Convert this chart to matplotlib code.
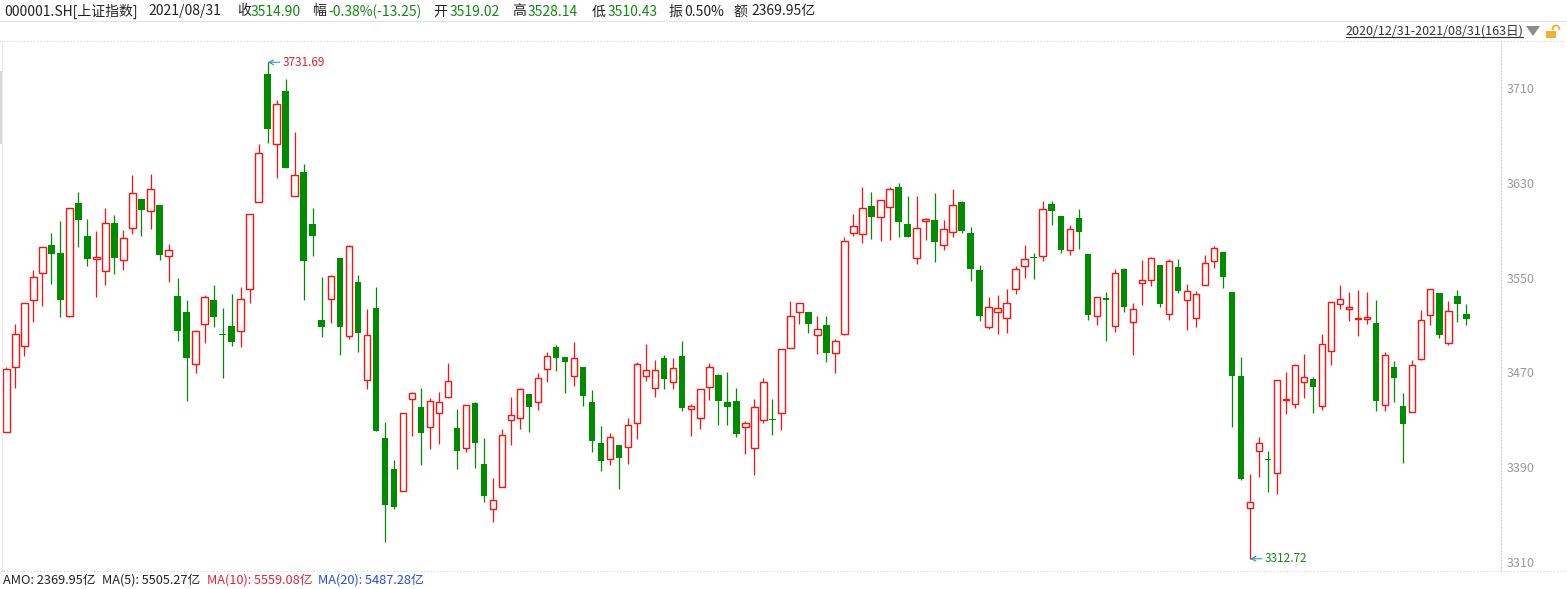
import numpy as np
import matplotlib
matplotlib.use("Agg")
import matplotlib.pyplot as plt
from matplotlib.lines import Line2D
from matplotlib.patches import Polygon, Rectangle, Arc

plt.rcParams['font.family'] = ['Noto Sans CJK SC', 'DejaVu Sans']

# daily OHLC of 000001.SH, 2020/12/31 - 2021/08/31 (163 trading days)
opens = [
    3419.7, 3474.3, 3492.0, 3530.8, 3553.6, 3577.5, 3570.8, 3517.9, 3612.7, 3585.1,
    3566.0, 3555.3, 3596.1, 3564.6, 3591.6, 3616.4, 3606.0, 3611.3, 3568.0, 3534.5,
    3521.0, 3476.8, 3510.6, 3531.1, 3502.4, 3509.2, 3504.7, 3540.1, 3613.5, 3721.8,
    3662.5, 3707.5, 3618.6, 3639.1, 3595.3, 3514.2, 3531.7, 3566.6, 3500.5, 3546.3,
    3463.3, 3524.4, 3414.7, 3388.5, 3369.7, 3447.3, 3440.5, 3424.2, 3435.5, 3449.5,
    3423.1, 3405.9, 3443.9, 3392.4, 3354.5, 3373.0, 3429.6, 3431.8, 3451.8, 3444.8,
    3472.6, 3491.2, 3482.7, 3467.3, 3474.6, 3445.0, 3410.2, 3396.7, 3408.5, 3406.8,
    3427.0, 3466.7, 3456.6, 3482.2, 3461.6, 3483.9, 3439.4, 3431.8, 3458.0, 3467.8,
    3445.0, 3445.9, 3423.7, 3405.9, 3429.6, 3431.0, 3435.5, 3490.3, 3520.7, 3520.7,
    3501.3, 3510.0, 3486.1, 3502.7, 3587.4, 3586.5, 3610.4, 3600.9, 3609.3, 3626.5,
    3595.2, 3566.3, 3597.5, 3598.3, 3577.2, 3588.2, 3613.5, 3587.4, 3556.1, 3508.0,
    3520.7, 3515.6, 3540.1, 3559.5, 3567.6, 3567.9, 3612.1, 3602.0, 3573.0, 3600.3,
    3569.9, 3517.3, 3532.5, 3508.8, 3557.2, 3512.2, 3545.1, 3547.7, 3560.6, 3519.0,
    3558.9, 3530.8, 3515.6, 3543.4, 3563.7, 3571.3, 3537.8, 3466.9, 3355.3, 3403.4,
    3396.9, 3384.8, 3446.7, 3443.1, 3461.6, 3464.4, 3441.4, 3488.3, 3527.4, 3523.8,
    3515.3, 3514.8, 3511.7, 3442.2, 3474.6, 3441.6, 3436.3, 3481.6, 3518.2, 3537.0,
    3494.5, 3534.2, 3519.02,
]
highs = [
    3474.9, 3510.9, 3528.3, 3556.4, 3575.5, 3587.9, 3597.8, 3608.4, 3622.2, 3599.4,
    3589.4, 3608.7, 3602.8, 3590.2, 3636.6, 3616.4, 3637.5, 3611.3, 3578.4, 3549.7,
    3531.1, 3505.8, 3535.3, 3543.8, 3524.7, 3536.5, 3541.8, 3603.4, 3662.5, 3731.69,
    3699.9, 3717.6, 3672.9, 3645.9, 3608.8, 3550.5, 3552.2, 3566.6, 3577.5, 3552.2,
    3523.5, 3542.1, 3428.2, 3396.1, 3435.5, 3453.5, 3456.9, 3448.1, 3453.5, 3478.0,
    3439.1, 3442.2, 3445.3, 3414.9, 3380.9, 3422.3, 3449.3, 3456.9, 3451.8, 3469.5,
    3487.0, 3493.1, 3482.7, 3495.7, 3474.6, 3455.2, 3424.8, 3418.9, 3408.5, 3431.5,
    3478.8, 3494.0, 3480.5, 3484.7, 3482.2, 3496.5, 3443.1, 3455.7, 3478.0, 3468.9,
    3470.4, 3456.9, 3429.0, 3447.6, 3465.3, 3447.6, 3489.5, 3530.2, 3528.3, 3520.7,
    3517.6, 3517.6, 3497.9, 3584.3, 3603.7, 3626.5, 3622.2, 3615.2, 3626.2, 3629.5,
    3618.9, 3618.9, 3600.3, 3621.4, 3598.3, 3624.8, 3614.6, 3592.4, 3560.3, 3533.6,
    3535.0, 3540.4, 3559.5, 3577.2, 3570.7, 3614.6, 3614.6, 3602.0, 3594.4, 3607.9,
    3569.9, 3533.3, 3537.8, 3557.0, 3558.1, 3528.3, 3564.8, 3567.1, 3560.6, 3565.4,
    3565.4, 3544.6, 3538.4, 3568.8, 3576.6, 3571.3, 3537.8, 3483.0, 3384.2, 3415.5,
    3403.6, 3463.3, 3470.3, 3477.1, 3485.5, 3466.1, 3502.1, 3529.1, 3543.8, 3537.9,
    3539.5, 3537.9, 3531.1, 3486.9, 3479.6, 3452.6, 3480.5, 3522.7, 3540.1, 3537.0,
    3530.3, 3539.5, 3528.14,
]
lows = [
    3419.7, 3457.1, 3484.1, 3512.8, 3526.3, 3544.6, 3517.0, 3517.0, 3576.1, 3560.1,
    3533.9, 3544.0, 3553.3, 3556.7, 3586.5, 3585.4, 3591.3, 3565.2, 3546.6, 3496.8,
    3446.2, 3469.8, 3495.1, 3508.6, 3465.6, 3492.6, 3491.7, 3528.9, 3613.5, 3663.9,
    3634.4, 3642.8, 3618.6, 3531.1, 3568.5, 3500.2, 3512.0, 3485.0, 3498.5, 3487.5,
    3456.3, 3420.9, 3327.2, 3354.5, 3369.7, 3416.6, 3391.9, 3405.7, 3409.9, 3448.7,
    3388.5, 3403.1, 3389.6, 3360.9, 3344.1, 3373.0, 3409.0, 3422.5, 3420.0, 3438.6,
    3462.2, 3471.2, 3452.9, 3458.8, 3441.9, 3403.1, 3387.1, 3392.2, 3371.9, 3392.7,
    3414.1, 3463.0, 3449.5, 3456.0, 3456.0, 3437.7, 3416.3, 3422.5, 3447.0, 3425.6,
    3425.6, 3415.8, 3401.4, 3383.7, 3427.6, 3417.2, 3421.4, 3490.3, 3510.6, 3503.5,
    3485.8, 3479.1, 3469.8, 3501.8, 3585.4, 3579.5, 3582.9, 3581.2, 3582.0, 3584.5,
    3584.5, 3561.8, 3582.0, 3563.4, 3573.0, 3584.5, 3587.4, 3547.4, 3513.7, 3506.9,
    3502.7, 3503.5, 3536.4, 3549.9, 3549.1, 3564.3, 3594.6, 3571.0, 3569.3, 3574.4,
    3514.5, 3510.3, 3496.8, 3504.3, 3521.2, 3484.9, 3526.9, 3543.2, 3525.4, 3514.5,
    3537.3, 3506.0, 3508.6, 3543.4, 3558.4, 3541.2, 3424.2, 3379.5, 3312.72, 3382.0,
    3369.3, 3367.1, 3435.2, 3440.2, 3448.7, 3436.0, 3438.6, 3476.5, 3523.8, 3513.4,
    3500.7, 3511.1, 3437.7, 3437.1, 3445.3, 3393.8, 3436.3, 3480.8, 3510.3, 3499.3,
    3493.4, 3512.8, 3510.43,
]
closes = [
    3473.1, 3502.4, 3528.3, 3550.2, 3575.5, 3570.2, 3531.4, 3608.4, 3598.9, 3566.0,
    3566.5, 3595.8, 3566.8, 3583.2, 3621.1, 3607.4, 3624.5, 3569.4, 3573.0, 3505.2,
    3482.5, 3504.7, 3533.4, 3517.1, 3501.5, 3496.0, 3531.7, 3603.4, 3654.9, 3675.7,
    3696.2, 3642.8, 3636.3, 3564.3, 3585.4, 3508.6, 3551.1, 3508.6, 3576.4, 3503.6,
    3501.3, 3420.9, 3358.4, 3356.7, 3435.5, 3452.3, 3419.2, 3445.6, 3444.8, 3462.5,
    3404.0, 3442.2, 3410.7, 3366.0, 3362.1, 3416.9, 3433.8, 3455.7, 3441.1, 3465.0,
    3483.6, 3482.5, 3479.1, 3481.9, 3450.4, 3412.4, 3395.5, 3415.2, 3398.1, 3425.3,
    3476.8, 3471.8, 3471.8, 3464.7, 3473.5, 3440.0, 3441.4, 3455.7, 3474.3, 3446.2,
    3441.1, 3418.3, 3427.0, 3440.5, 3461.6, 3429.8, 3489.5, 3517.3, 3528.3, 3511.1,
    3506.3, 3486.6, 3496.2, 3580.9, 3593.3, 3608.5, 3601.4, 3615.2, 3624.5, 3597.2,
    3584.5, 3591.6, 3599.2, 3580.3, 3590.7, 3611.0, 3589.6, 3557.0, 3517.9, 3524.9,
    3524.1, 3528.3, 3557.0, 3565.4, 3566.8, 3607.6, 3606.5, 3573.3, 3590.7, 3588.7,
    3518.7, 3533.3, 3530.8, 3553.6, 3525.4, 3523.2, 3547.7, 3566.2, 3528.0, 3563.7,
    3538.9, 3538.4, 3535.9, 3562.0, 3574.7, 3550.8, 3467.2, 3380.3, 3360.3, 3410.1,
    3396.0, 3463.3, 3447.2, 3476.0, 3465.8, 3458.0, 3493.7, 3529.1, 3531.7, 3524.2,
    3515.7, 3516.5, 3446.1, 3484.4, 3465.6, 3426.7, 3476.0, 3513.9, 3540.1, 3501.8,
    3521.5, 3528.0, 3514.90,
]
yticks = [3310, 3390, 3470, 3550, 3630, 3710]

W, H = 1567, 589
RED = '#ff1010'
GREEN = '#008c00'

o = np.array(opens)
h = np.array(highs)
l = np.array(lows)
c = np.array(closes)
x = np.arange(len(o))
up = c >= o

fig = plt.figure(figsize=(W / 100, H / 100), dpi=100)
ax = fig.add_axes([0, (H - 571) / H, 1501 / W, 530 / H])

body_lo = np.minimum(o, c)
body_hi = np.maximum(o, c)
body_h = np.maximum(body_hi - body_lo, 1.0)
bw = 0.72

# wicks: green through the body, red only outside the hollow body
ax.vlines(x[~up], l[~up], h[~up], color=GREEN, lw=0.9, zorder=2)
ax.vlines(x[up], body_hi[up], h[up], color=RED, lw=0.9, zorder=2)
ax.vlines(x[up], l[up], body_lo[up], color=RED, lw=0.9, zorder=2)
ax.bar(x[~up], body_h[~up], bw, bottom=body_lo[~up], color=GREEN, lw=0, zorder=3)
ax.bar(x[up], body_h[up], bw, bottom=body_lo[up], facecolor='white',
       edgecolor=RED, lw=1.0, zorder=3)

ax.set_xlim(-0.7, 165.85)
ax.set_ylim(3302.4, 3749.7)
ax.set_xticks([])
ax.yaxis.tick_right()
ax.set_yticks(yticks)
ax.tick_params(axis='y', length=0, pad=4, labelcolor='#9a9a9a', labelsize=9)
for s in ['top', 'bottom', 'left']:
    ax.spines[s].set_visible(False)
ax.spines['right'].set_color('#d0d0d0')
ax.spines['right'].set_linestyle((0, (1, 2)))
ax.spines['right'].set_linewidth(0.8)

# high / low markers
ih, il = int(np.argmax(h)), int(np.argmin(l))
ax.annotate(f'{h[ih]:.2f}', xy=(ih, h[ih]), xytext=(ih + 1.65, h[ih]), va='center',
            color='#e0202a', fontsize=8.5,
            arrowprops=dict(arrowstyle='->', color='#3a93c8', lw=0.8, shrinkA=0, shrinkB=0))
ax.annotate(f'{l[il]:.2f}', xy=(il, l[il]), xytext=(il + 1.65, l[il]), va='center',
            color='#118a11', fontsize=8.5,
            arrowprops=dict(arrowstyle='->', color='#3a93c8', lw=0.8, shrinkA=0, shrinkB=0))


def fx(px):
    return px / W


def fy(py):
    return 1 - py / H


def hline(y, x0, x1, **kw):
    fig.add_artist(Line2D([fx(x0), fx(x1)], [fy(y), fy(y)], transform=fig.transFigure, **kw))


# frame lines
hline(20.5, 0, W, color='#e3e3e3', lw=0.8)
hline(41, 0, W, color='#d0d0d0', lw=0.8, ls=(0, (1, 2)))
hline(571, 0, W, color='#d0d0d0', lw=0.8, ls=(0, (1, 2)))
fig.add_artist(Line2D([fx(1.5), fx(1.5)], [fy(41), fy(571)], transform=fig.transFigure,
                      color='#ececec', lw=0.8))
fig.add_artist(Line2D([fx(0.8), fx(0.8)], [fy(72), fy(143)], transform=fig.transFigure,
                      color='#d8d8d8', lw=1.5))

# header line
DARK = '#222222'
VAL = '#118a11'
header = [
    (4, '000001.SH[上证指数]', DARK), (148, '2021/08/31', DARK),
    (237, '收', DARK), (251, '3514.90', VAL),
    (312, '幅', DARK), (328, '-0.38%(-13.25)', VAL),
    (433, '开', DARK), (450, '3519.02', VAL),
    (512, '高', DARK), (528, '3528.14', VAL),
    (592, '低', DARK), (608, '3510.43', VAL),
    (668, '振', DARK), (684, '0.50%', DARK),
    (733, '额', DARK), (751, '2369.95亿', DARK),
]
for px, s, col in header:
    fig.text(fx(px), fy(11.5), s, color=col, fontsize=10, va='center', ha='left')

# date range, underlined, with dropdown triangle and lock
fig.text(fx(1523), fy(31.5), '2020/12/31-2021/08/31(163日)', color='#333333',
         fontsize=9, va='center', ha='right')
hline(37.2, 1346, 1523, color='#333333', lw=0.8)
fig.add_artist(Polygon([(fx(1526), fy(26)), (fx(1540), fy(26)), (fx(1533), fy(36))],
                       closed=True, transform=fig.transFigure, color='#8c8c8c', lw=0))
fig.add_artist(Rectangle((fx(1546), fy(38)), 10 / W, 7 / H, transform=fig.transFigure,
                         color='#f0b030', lw=0))
fig.add_artist(Arc((fx(1556), fy(30)), 7 / W, 9 / H, theta1=0, theta2=180,
                   transform=fig.transFigure, color='#f0b030', lw=1.3))

# footer
footer = [
    (3, 'AMO: 2369.95亿', DARK), (102.5, 'MA(5): 5505.27亿', DARK),
    (206.5, 'MA(10): 5559.08亿', '#e8203c'), (317.5, 'MA(20): 5487.28亿', '#2448f0'),
]
for px, s, col in footer:
    fig.text(fx(px), fy(580.5), s, color=col, fontsize=9.2, va='center', ha='left')

fig.savefig('out.png', dpi=100, facecolor='white')
